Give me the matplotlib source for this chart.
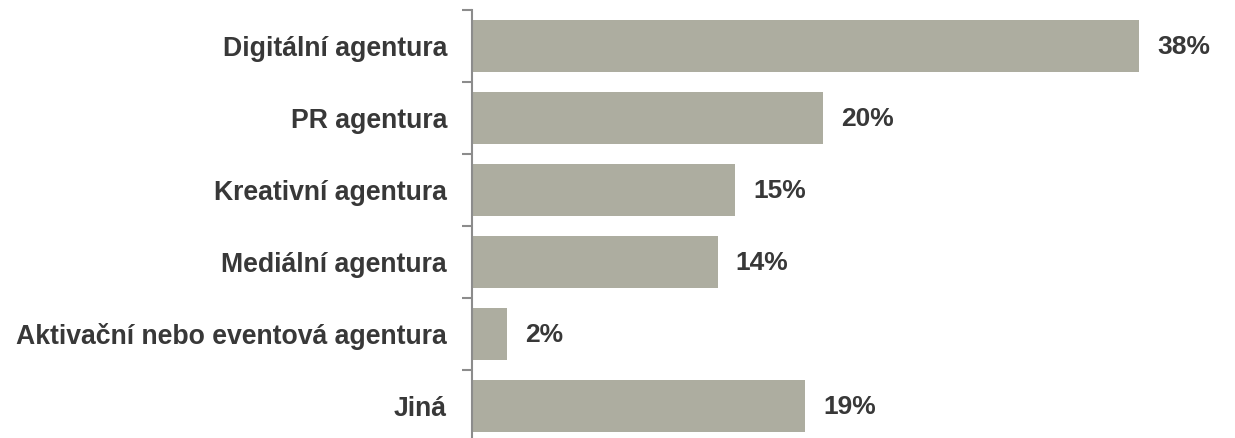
import matplotlib.pyplot as plt
from matplotlib import font_manager

categories = ['Digitální agentura', 'PR agentura', 'Kreativní agentura',
              'Mediální agentura', 'Aktivační nebo eventová agentura', 'Jiná']
values = [38, 20, 15, 14, 2, 19]
# the first two labels are in the regular width face, the rest condensed
narrow_label = [False, False, True, True, True, True]

bar_color = '#adada0'
text_color = '#383838'
axis_color = '#8c8c8c'

names = {f.name for f in font_manager.fontManager.ttflist}
narrow_font = 'Liberation Sans Narrow' if 'Liberation Sans Narrow' in names else 'Liberation Sans'

fig = plt.figure(figsize=(12.35, 4.38), dpi=100)
ax = fig.add_axes([472 / 1235, -4 / 438, 760 / 1235, 432 / 438])

ypos = list(range(len(categories)))
ax.barh(ypos, values, height=0.71, color=bar_color, edgecolor='none')
ax.set_ylim(len(categories) - 0.5, -0.5)
ax.set_xlim(0, 43.3)

ax.set_yticks([y - 0.5 for y in ypos] + [len(categories) - 0.5])
ax.set_yticklabels([])
ax.set_yticks(ypos, minor=True)
ax.set_yticklabels(categories, minor=True, fontsize=19.2, fontweight='bold',
                   color=text_color, family='Liberation Sans')
ax.tick_params(axis='y', which='major', length=7, width=1.5, color=axis_color)
ax.tick_params(axis='y', which='minor', length=0, pad=18)
ax.set_xticks([])

for side in ['top', 'right', 'bottom']:
    ax.spines[side].set_visible(False)
ax.spines['left'].set_color(axis_color)
ax.spines['left'].set_linewidth(1.5)

for y, v, nar in zip(ypos, values, narrow_label):
    ax.annotate(f'{v}%', xy=(v, y), xytext=(13, -1), textcoords='offset points',
                va='center', ha='left', fontsize=19, fontweight='bold', color=text_color,
                family=narrow_font if nar else 'Liberation Sans')

fig.savefig('out.png', dpi=100)
